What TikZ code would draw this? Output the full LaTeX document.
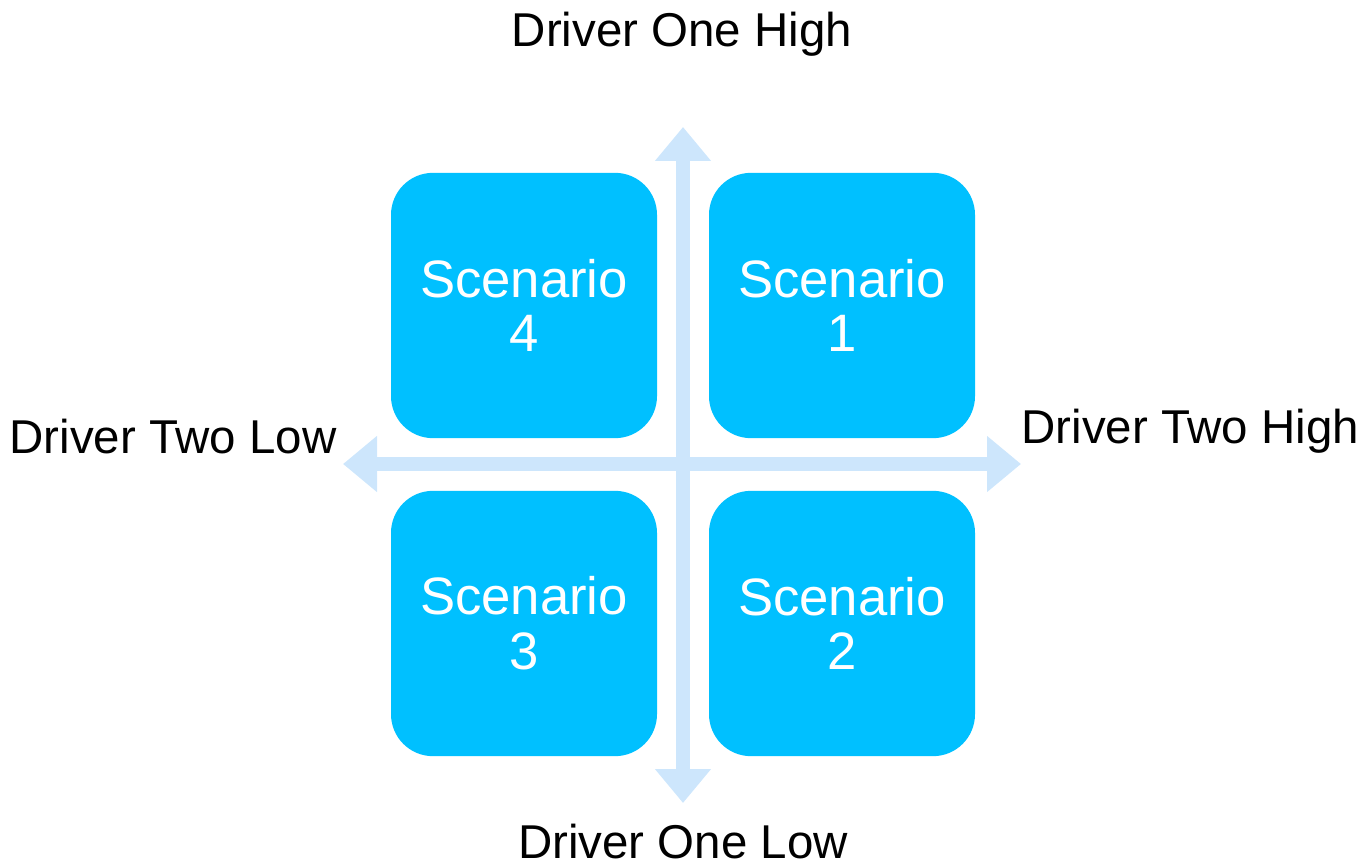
\documentclass[tikz,border=0pt]{standalone}
\usepackage{fontspec}
\setmainfont{Liberation Sans}
\usetikzlibrary{arrows.meta}

\definecolor{scenblue}{RGB}{0,192,255}
\definecolor{axisblue}{RGB}{205,230,252}

\tikzset{every picture/.style={line width=0.75pt}}
\tikzset{
  scenbox/.style={rectangle, rounded corners=31.5pt, fill=scenblue, draw=none,
    minimum width=199.5pt, minimum height=199pt, text=white, align=center,
    font=\fontsize{39.5}{41}\selectfont},
  drvlabel/.style={inner sep=0pt, font=\fontsize{35.6}{42}\selectfont},
  axisline/.style={draw=axisblue, line width=10.5pt,
    {Triangle[length=25.5pt,width=40.5pt]}-{Triangle[length=25.5pt,width=40.5pt]}}
}

\begin{document}
\begin{tikzpicture}[x=0.75pt,y=0.75pt,yscale=-1,xscale=1]
\useasboundingbox (0,0) rectangle (1367,866);

%Axis ends
\coordinate (axtop) at (683,127);
\coordinate (axbot) at (683,803);
\coordinate (axleft) at (343,464);
\coordinate (axright) at (1021,464);
%Axes
\draw [axisline] (axbot) -- (axtop);
\draw [axisline] (axleft) -- (axright);

%Scenario boxes
\node [scenbox] (scen4) at (524,305.5) {Scenario\\4};
\node [scenbox] (scen1) at (842,305.5) {Scenario\\1};
\node [scenbox] (scen3) at (524,623.5) {Scenario\\3};
\node [scenbox] (scen2) at (842,623.5) {Scenario\\2};

% Text Node
\node [drvlabel, anchor=base] (onehigh) at (682,47) {Driver One High};
% Text Node
\node [drvlabel, anchor=base] (onelow) at (683,858) {Driver One Low};
% Text Node
\node [drvlabel, anchor=base west] (twolow) at (9,453) {Driver Two Low};
% Text Node
\node [drvlabel, anchor=base west] (twohigh) at (1021,443) {Driver Two High};

\end{tikzpicture}
\end{document}
